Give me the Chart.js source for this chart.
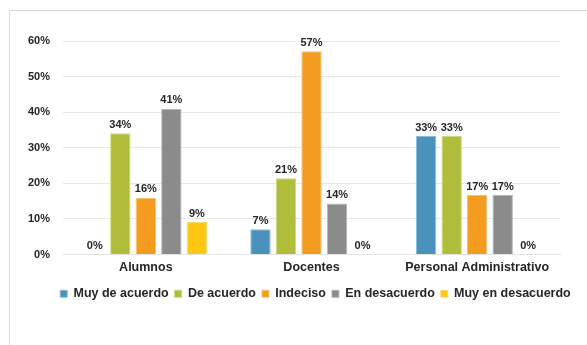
<!DOCTYPE html>
<html>
<head>
    <meta charset="utf-8">
    <title>Encuesta</title>
    <script src="https://cdn.jsdelivr.net/npm/chart.js@4.4.1/dist/chart.umd.min.js"></script>
    <style>
        html, body { margin: 0; padding: 0; background: #fff; }
        #frame {
            position: absolute;
            left: 9px;
            top: 10px;
            width: 700px;
            height: 500px;
            border-top: 1px solid #d9d9d9;
            border-left: 1px solid #d9d9d9;
        }
        #chart-wrapper {
            position: absolute;
            left: 0;
            top: 0;
            width: 587px;
            height: 345px;
        }
    </style>
</head>
<body>
<div id="frame"></div>
<div id="chart-wrapper">
    <canvas id="myChart" width="587" height="345"></canvas>
</div>
<script>

// categories and series (percent)
var groups = ['Alumnos', 'Docentes', 'Personal Administrativo'];
var muyDeAcuerdo = [0, 7.1, 33.3];
var deAcuerdo = [34.1, 21.4, 33.3];
var indeciso = [15.9, 57.1, 16.7];
var enDesacuerdo = [40.9, 14.3, 16.7];
var muyEnDesacuerdo = [9.1, 0, 0];
var yTicks = [0, 10, 20, 30, 40, 50, 60];

const ctx = document.getElementById('myChart').getContext('2d');

// labels on top of each bar
const barLabels = {
  id: 'barLabels',
  afterDatasetsDraw(chart) {
    const c = chart.ctx;
    c.save();
    c.font = 'bold 11px "Liberation Sans", Arial, sans-serif';
    c.fillStyle = '#262626';
    c.textAlign = 'center';
    c.textBaseline = 'bottom';
    chart.data.datasets.forEach(function (ds, i) {
      const meta = chart.getDatasetMeta(i);
      meta.data.forEach(function (bar, j) {
        c.fillText(Math.round(ds.data[j]) + '%', bar.x, bar.y - 3);
      });
    });
    c.restore();
  }
};

// the legend in the original sits a bit right of centre
const legendShift = {
  id: 'legendShift',
  afterLayout(chart) {
    chart.legend.left += 28;
    chart.legend.right += 28;
  }
};

function series(label, values, color, edge) {
  return {
    label: label,
    data: values,
    backgroundColor: color,
    borderColor: edge,
    borderWidth: 1
  };
}

const config = {
  type: 'bar',
  data: {
    labels: groups,
    datasets: [
      series('Muy de acuerdo', muyDeAcuerdo, '#4a92bb', '#8dbcd8'),
      series('De acuerdo', deAcuerdo, '#afbd3a', '#cdd682'),
      series('Indeciso', indeciso, '#f49c1f', '#f8c170'),
      series('En desacuerdo', enDesacuerdo, '#8b8b8b', '#b5b5b5'),
      series('Muy en desacuerdo', muyEnDesacuerdo, '#fdc80f', '#fedc66')
    ]
  },
  options: {
    responsive: false,
    animation: false,
    layout: {
      padding: { left: 15, right: 27, top: 41, bottom: 35 }
    },
    datasets: {
      bar: {
        categoryPercentage: 0.77,
        barPercentage: 0.8
      }
    },
    scales: {
      x: {
        grid: { display: false, drawTicks: false },
        border: { color: '#e3e3e3' },
        ticks: {
          padding: 6,
          color: '#262626',
          font: { family: '"Liberation Sans", Arial, sans-serif', size: 12.5, weight: 'bold' }
        }
      },
      y: {
        min: 0,
        max: 60,
        afterBuildTicks: function (axis) {
          axis.ticks = yTicks.map(function (v) { return { value: v }; });
        },
        grid: { color: '#e8e8e8', drawTicks: false },
        border: { display: false },
        ticks: {
          padding: 13,
          color: '#262626',
          font: { family: '"Liberation Sans", Arial, sans-serif', size: 11, weight: 'bold' },
          callback: function (v) { return v + '%'; }
        }
      }
    },
    plugins: {
      tooltip: { enabled: false },
      legend: {
        position: 'bottom',
        labels: {
          boxWidth: 7,
          boxHeight: 7,
          padding: 6,
          color: '#262626',
          font: { family: '"Liberation Sans", Arial, sans-serif', size: 12.5, weight: 'bold' }
        }
      }
    }
  },
  plugins: [barLabels, legendShift]
};

var myChart = new Chart(ctx, config);

</script>
</body>
</html>
